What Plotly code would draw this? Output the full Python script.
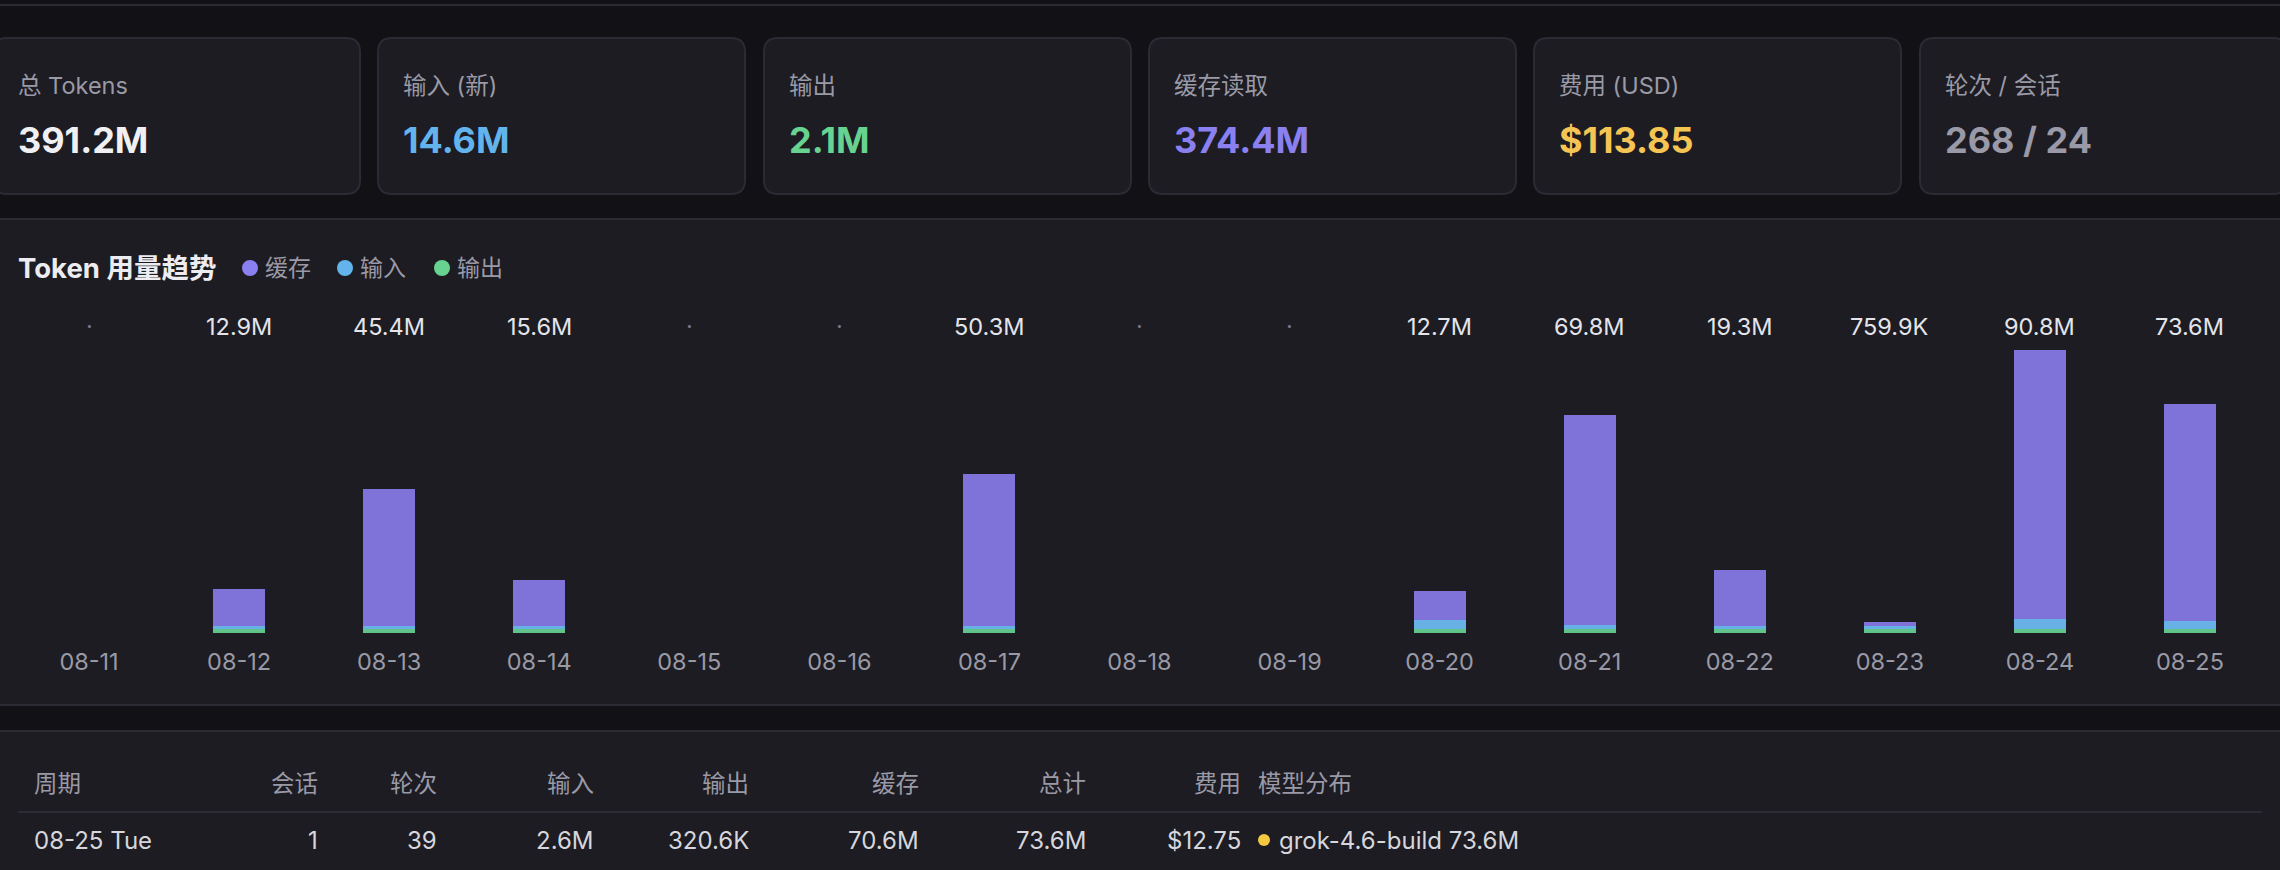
import plotly.graph_objects as go

W, H = 2280, 870
FONT = "Inter, 'Noto Sans CJK SC', sans-serif"

# summary cards
card_labels = ["总 Tokens", "输入 (新)", "输出", "缓存读取", "费用 (USD)", "轮次 / 会话"]
card_values = ["391.2M", "14.6M", "2.1M", "374.4M", "$113.85", "268 / 24"]
card_colors = ["#f0f0f3", "#63b3ed", "#68d391", "#8b80f0", "#f6c453", "#9a99a8"]

# daily token usage, in millions
dates = ["08-11", "08-12", "08-13", "08-14", "08-15", "08-16", "08-17", "08-18",
         "08-19", "08-20", "08-21", "08-22", "08-23", "08-24", "08-25"]
cache = [0, 11.82, 44.35, 14.85, 0, 0, 49.3, 0, 0, 9.68, 68.05, 17.9, 0.51, 87.3, 70.6]
inp = [0, 0.9, 0.8, 0.6, 0, 0, 0.7, 0, 0, 2.9, 1.4, 1.2, 0.2, 3.3, 2.6]
out = [0, 0.18, 0.25, 0.15, 0, 0, 0.3, 0, 0, 0.12, 0.35, 0.2, 0.05, 0.2, 0.32]
totals = [0, 12.9, 45.4, 15.6, 0, 0, 50.3, 0, 0, 12.7, 69.8, 19.3, 0.7599, 90.8, 73.6]

# table
table_head = ["周期", "会话", "轮次", "输入", "输出", "缓存", "总计", "费用", "模型分布"]
table_row = ["08-25 Tue", "1", "39", "2.6M", "320.6K", "70.6M", "73.6M", "$12.75"]
row_model = "grok-4.6-build 73.6M"

BG = "#111116"
PANEL = "#1c1c22"
EDGE = "#2b2b33"
MUTED = "#9a99a6"
C_CACHE, C_IN, C_OUT = "#7f73d9", "#67b1e6", "#5fc38a"


def px(x):
    return x / W


def py(y):
    return 1 - y / H


def fmt(v):
    if v == 0:
        return "·"
    if v >= 1:
        return f"{v:.1f}M"
    return f"{v * 1000:.1f}K"


def rounded(x0, y0, x1, y1, r):
    rx, ry = r / W, r / H
    a, b, c, d = px(x0), py(y0), px(x1), py(y1)
    return (f"M{a + rx},{b} L{c - rx},{b} Q{c},{b} {c},{b - ry} "
            f"L{c},{d + ry} Q{c},{d} {c - rx},{d} L{a + rx},{d} "
            f"Q{a},{d} {a},{d + ry} L{a},{b - ry} Q{a},{b} {a + rx},{b} Z")


MIN_SEG = 1.2  # smallest visible segment


def shown(vals):
    return [max(v, MIN_SEG) if v > 0 else 0 for v in vals]


def text(x, y, s, size, color, anchor="left"):
    return dict(xref="paper", yref="paper", x=px(x), y=py(y), xanchor=anchor,
                yanchor="middle", showarrow=False, text=s,
                font=dict(size=size, color=color, family=FONT))


fig = go.Figure()
for name, vals, col in [("输出", out, C_OUT), ("输入", inp, C_IN), ("缓存", cache, C_CACHE)]:
    fig.add_trace(go.Bar(
        x=dates, y=shown(vals), name=name, marker=dict(color=col, line=dict(width=0)),
        customdata=vals, hovertemplate=name + " %{customdata:.2f}M<extra></extra>",
        showlegend=False))

shapes = []
annotations = []

# top rule
shapes.append(dict(type="line", xref="paper", yref="paper", x0=0, x1=1,
                   y0=py(5), y1=py(5), line=dict(color=EDGE, width=2), layer="below"))

# cards
card_x = [-7, 378, 764, 1149, 1534, 1920]
card_w = 367
for i, lab in enumerate(card_labels):
    x0 = card_x[i]
    shapes.append(dict(type="path", xref="paper", yref="paper",
                       path=rounded(x0, 38, x0 + card_w, 194, 14),
                       fillcolor=PANEL, line=dict(color=EDGE, width=2), layer="below"))
    annotations.append(text(x0 + 23, 85, lab, 23.5, MUTED))
    annotations.append(text(x0 + 23, 140, "<b>" + card_values[i] + "</b>", 36,
                            card_colors[i]))

# chart panel and table panel
for y0, y1 in [(219, 705), (731, 900)]:
    shapes.append(dict(type="rect", xref="paper", yref="paper", x0=-0.01, x1=1.01,
                       y0=py(y0), y1=py(y1), fillcolor=PANEL,
                       line=dict(color=EDGE, width=2), layer="below"))

annotations.append(text(16, 268, "<b>Token 用量趋势</b>", 27.5, "#ececf1"))

# legend
for cx, lab, col in [(250, "缓存", "#8b80f0"), (345, "输入", "#63b3ed"), (442, "输出", "#68d391")]:
    shapes.append(dict(type="circle", xref="paper", yref="paper",
                       x0=px(cx - 8), x1=px(cx + 8), y0=py(260), y1=py(276),
                       fillcolor=col, line=dict(width=0)))
    annotations.append(text(cx + 13, 268, lab, 23, MUTED))

# bar total labels
y_top = py(325)
for d, t in zip(dates, totals):
    annotations.append(dict(xref="x", yref="paper", x=d, y=y_top, yshift=-1,
                            xanchor="center", yanchor="middle", showarrow=False, text=fmt(t),
                            font=dict(size=23.5, color="#e4e4ea" if t else "#77768a",
                                      family=FONT)))

# table
col_right = [None, 320, 439, 596, 751, 921, 1088, 1243]
for i, h in enumerate(table_head):
    if i == 0:
        annotations.append(text(32, 783, h, 23.5, MUTED))
    elif i == 8:
        annotations.append(text(1256, 783, h, 23.5, MUTED))
    else:
        annotations.append(text(col_right[i], 783, h, 23.5, MUTED, "right"))
shapes.append(dict(type="line", xref="paper", yref="paper", x0=px(18), x1=px(2262),
                   y0=py(812), y1=py(812), line=dict(color=EDGE, width=2), layer="below"))
for i, v in enumerate(table_row):
    if i == 0:
        annotations.append(text(32, 840, v, 24, "#d6d6dc"))
    else:
        annotations.append(text(col_right[i], 840, v, 24, "#d6d6dc", "right"))
shapes.append(dict(type="circle", xref="paper", yref="paper", x0=px(1258), x1=px(1270),
                   y0=py(834), y1=py(846), fillcolor="#f5c842", line=dict(width=0)))
annotations.append(text(1277, 840, row_model, 24, "#d6d6dc"))

fig.update_layout(
    width=W, height=H, margin=dict(l=0, r=0, t=0, b=0),
    paper_bgcolor=BG, plot_bgcolor="rgba(0,0,0,0)",
    barmode="stack", bargap=0.653,
    font=dict(family=FONT, color=MUTED),
    xaxis=dict(domain=[px(14), px(2265)], type="category", showgrid=False,
               zeroline=False, showline=False, ticks="outside", ticklen=8,
               tickcolor="rgba(0,0,0,0)", tickfont=dict(size=23.5, color=MUTED, family=FONT),
               fixedrange=True),
    yaxis=dict(domain=[py(633), py(325)], range=[0, max(totals) * 1.1], visible=False,
               fixedrange=True),
    shapes=shapes, annotations=annotations, showlegend=False,
)

fig.write_html("out.html", config={"displayModeBar": False},
               post_script="document.body.style.margin='0';document.body.style.overflow='hidden';")
